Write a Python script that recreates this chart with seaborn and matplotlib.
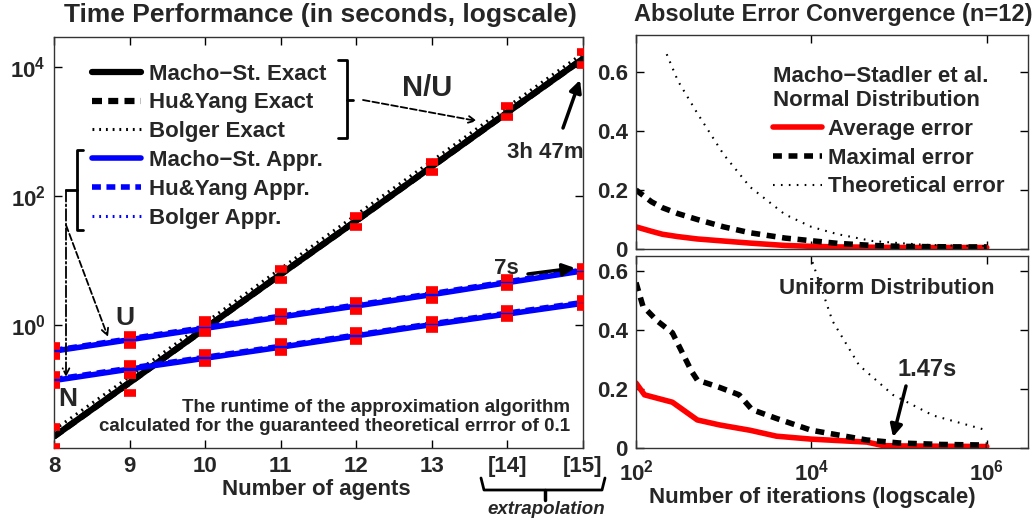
import matplotlib
matplotlib.use('Agg')
import matplotlib.pyplot as plt
import seaborn as sns
from matplotlib.lines import Line2D
from matplotlib.patches import FancyArrowPatch

# Time performance data (seconds)
agents = [8, 9, 10, 11, 12, 13, 14, 15]
agent_labels = ['8', '9', '10', '11', '12', '13', '[14]', '[15]']
macho_exact = [0.019, 0.13, 0.9, 6.2, 42, 290, 2000, 13600]
huyang_exact = [0.019, 0.13, 0.9, 6.2, 42, 290, 2000, 13600]
bolger_exact = [0.024, 0.16, 1.1, 7.6, 52, 355, 2450, 16500]
macho_appr_u = [0.40, 0.60, 0.90, 1.35, 2.0, 3.0, 4.6, 7.0]
huyang_appr_u = [0.41, 0.62, 0.93, 1.39, 2.07, 3.1, 4.75, 7.2]
bolger_appr_u = [0.41, 0.61, 0.92, 1.37, 2.04, 3.05, 4.7, 7.1]
macho_appr_n = [0.14, 0.21, 0.31, 0.46, 0.69, 1.03, 1.5, 2.2]
huyang_appr_n = [0.145, 0.217, 0.32, 0.475, 0.71, 1.06, 1.55, 2.27]
bolger_appr_n = [0.143, 0.214, 0.315, 0.47, 0.70, 1.05, 1.53, 2.25]
# measured runs (red marks)
exact_lo = [0.013, 0.09, 0.75, 5.0, 33, 240, 1700, 11000]
exact_hi = [0.027, 0.17, 1.2, 7.5, 50, 340, 2500, 17000]
u_lo = [0.33, 0.50, 0.78, 1.15, 1.7, 2.5, 3.9, 5.8]
u_hi = [0.48, 0.72, 1.10, 1.60, 2.4, 3.5, 5.4, 8.0]
n_lo = [0.12, 0.17, 0.26, 0.39, 0.58, 0.87, 1.3, 1.9]
n_hi = [0.17, 0.25, 0.37, 0.55, 0.82, 1.2, 1.8, 2.6]

# Error convergence, normal distribution
norm_iter = [100, 150, 200, 300, 500, 1000, 2000, 5000, 1e4, 2e4, 5e4, 1e5, 2e5, 5e5, 1e6]
norm_avg = [0.075, 0.06, 0.05, 0.042, 0.034, 0.027, 0.02, 0.012, 0.009, 0.007, 0.006, 0.005, 0.005, 0.005, 0.005]
norm_max = [0.2, 0.16, 0.14, 0.12, 0.1, 0.075, 0.055, 0.037, 0.028, 0.019, 0.012, 0.009, 0.008, 0.007, 0.007]
norm_theo_iter = [224, 300, 500, 1000, 2000, 5000, 1e4, 2e4, 5e4, 1e5, 2e5, 5e5, 1e6]
norm_theo = [0.66, 0.57, 0.46, 0.32, 0.21, 0.117, 0.075, 0.05, 0.027, 0.02, 0.014, 0.011, 0.01]

# Error convergence, uniform distribution
uni_max_iter = [100, 120, 175, 260, 430, 500, 900, 1500, 2100, 4000, 1e4, 4.3e4, 1e5, 3e5, 1e6]
uni_max = [0.56, 0.48, 0.43, 0.39, 0.26, 0.23, 0.205, 0.18, 0.13, 0.10, 0.06, 0.027, 0.017, 0.012, 0.01]
uni_avg_iter = [100, 125, 260, 500, 900, 2000, 4000, 1e4, 4.3e4, 6.6e4, 1e5, 1e6]
uni_avg = [0.22, 0.18, 0.155, 0.095, 0.078, 0.06, 0.04, 0.03, 0.02, 0.008, 0.007, 0.005]
uni_theo_iter = [9000, 1.74e4, 3.5e4, 8.5e4, 2.45e5, 1e6]
uni_theo = [0.68, 0.43, 0.28, 0.18, 0.11, 0.06]

sns.set_theme(style='ticks')
plt.rcParams['font.family'] = ['Liberation Sans', 'DejaVu Sans']
plt.rcParams['font.weight'] = 'bold'
plt.rcParams['mathtext.fontset'] = 'custom'
plt.rcParams['mathtext.rm'] = 'Liberation Sans:bold'
plt.rcParams['mathtext.it'] = 'Liberation Sans:bold'
plt.rcParams['mathtext.bf'] = 'Liberation Sans:bold'
plt.rcParams['mathtext.default'] = 'rm'
plt.rcParams['axes.linewidth'] = 1.0

W, H = 1034, 523


def fpx(x, y):
    # pixel (from top-left) -> figure fraction
    return (x / W, 1 - y / H)


def ax_rect(l, t, r, b):
    return [l / W, 1 - b / H, (r - l) / W, (b - t) / H]


def style_ticks(ax):
    ax.tick_params(direction='in', length=6, width=1, top=True, right=True,
                   labelsize=16, color='black', pad=6)
    ax.tick_params(which='minor', length=0)
    for s in ax.spines.values():
        s.set_color('#333333')


def bracket(pts, lw=2):
    xs = [fpx(*p)[0] for p in pts]
    ys = [fpx(*p)[1] for p in pts]
    fig.add_artist(Line2D(xs, ys, transform=fig.transFigure, color='black', lw=lw))


def arrow(p0, p1, **kw):
    fig.add_artist(FancyArrowPatch(fpx(*p0), fpx(*p1), transform=fig.transFigure,
                                   shrinkA=0, shrinkB=0, color='black', **kw))


fig = plt.figure(figsize=(W / 100, H / 100), dpi=100)

#--------------------------------------------------------------------------------------------
# Left: time performance
ax = fig.add_axes(ax_rect(54, 37, 583, 448))
ax.set_yscale('log')

dash = (0, (1.6, 1.0))
dot = (0, (0.6, 1.6))
sns.lineplot(x=agents, y=macho_exact, ax=ax, color='black', lw=4.5, label='Macho−St. Exact')
sns.lineplot(x=agents, y=huyang_exact, ax=ax, color='black', lw=4.5, ls=dash, label='Hu&Yang Exact')
sns.lineplot(x=agents, y=bolger_exact, ax=ax, color='black', lw=2.2, ls=dot, label='Bolger Exact')
sns.lineplot(x=agents, y=macho_appr_u, ax=ax, color='#0000ff', lw=4, label='Macho−St. Appr.')
sns.lineplot(x=agents, y=huyang_appr_u, ax=ax, color='#0000ff', lw=4, ls=dash, label='Hu&Yang Appr.')
sns.lineplot(x=agents, y=bolger_appr_u, ax=ax, color='#0000ff', lw=2.2, ls=dot, label='Bolger Appr.')
sns.lineplot(x=agents, y=macho_appr_n, ax=ax, color='#0000ff', lw=4)
sns.lineplot(x=agents, y=huyang_appr_n, ax=ax, color='#0000ff', lw=4, ls=dash)
sns.lineplot(x=agents, y=bolger_appr_n, ax=ax, color='#0000ff', lw=2.2, ls=dot)

for vals in [exact_lo, exact_hi, u_lo, u_hi, n_lo, n_hi]:
    ax.plot(agents, vals, ls='none', marker='_', ms=9, mew=5.5, color='#ff0000', zorder=5)

ax.set_xlim(8, 15)
ax.set_ylim(10 ** -1.9, 10 ** 4.47)
ax.set_xticks(agents)
ax.set_xticklabels(agent_labels)
ax.set_yticks([1, 1e2, 1e4])
ax.set_xlabel('')
ax.set_ylabel('')
style_ticks(ax)

ax.legend(loc='upper left', bbox_to_anchor=(0.072, 0.935), frameon=False,
          fontsize=16, handlelength=2.2, handletextpad=0.35, labelspacing=0.35,
          borderaxespad=0, borderpad=0)

fig.text(*fpx(570, 417), 'The runtime of the approximation algorithm\n'
         'calculated for the guaranteed theoretical errror of 0.1',
         ha='right', va='center', fontsize=13.5, multialignment='right', linespacing=1.2)

# brackets and arrows
bracket([(338, 60), (347, 60), (347, 138), (338, 138)])
bracket([(347, 100), (353, 100)])
bracket([(83, 150), (77, 150), (77, 230), (83, 230)])
bracket([(77, 190), (66, 190)])

arrow((363, 100), (477, 121), arrowstyle='->', lw=1.3, ls='--', mutation_scale=12)
arrow((66, 190), (66, 377), arrowstyle='->', lw=1.3, ls='-.', mutation_scale=12)
arrow((66, 225), (108, 337), arrowstyle='->', lw=1.3, ls='--', mutation_scale=12)

fig.text(*fpx(427, 88), 'N/U', fontsize=21, ha='center', va='center')
fig.text(*fpx(125, 318), 'U', fontsize=19, ha='center', va='center')
fig.text(*fpx(68, 399), 'N', fontsize=19, ha='center', va='center')

fig.text(*fpx(506, 268), '7s', fontsize=16, ha='center', va='center')
arrow((528, 274), (575, 268), arrowstyle='-|>', lw=2.5, mutation_scale=18)
fig.text(*fpx(545, 152), '3h 47m', fontsize=16, ha='center', va='center')
arrow((563, 128), (580, 80), arrowstyle='-|>', lw=2.5, mutation_scale=18)

# extrapolation brace
bracket([(481, 478), (484, 490), (602, 490), (605, 478)])
bracket([(545, 490), (545, 500)], lw=2.5)
fig.text(*fpx(546, 510), 'extrapolation', fontsize=13.5, style='italic', ha='center', va='center')

fig.text(*fpx(320, 15), 'Time Performance (in seconds, logscale)', fontsize=19, ha='center', va='center',
         family=['Liberation Sans Narrow', 'Liberation Sans'])
fig.text(*fpx(316, 490), 'Number of agents', fontsize=16, ha='center', va='center')

#--------------------------------------------------------------------------------------------
# Right: absolute error convergence
ax_t = fig.add_axes(ax_rect(636, 35, 1028, 249))
ax_b = fig.add_axes(ax_rect(636, 256, 1028, 448))

for a in (ax_t, ax_b):
    a.set_xscale('log')

sns.lineplot(x=norm_iter, y=norm_avg, ax=ax_t, color='#ff0000', lw=4, label='Average error')
sns.lineplot(x=norm_iter, y=norm_max, ax=ax_t, color='black', lw=4, ls=(0, (1.6, 1.2)), label='Maximal error')
sns.lineplot(x=norm_theo_iter, y=norm_theo, ax=ax_t, color='black', lw=1.5, ls=(0, (0.8, 3)), label='Theoretical error')

sns.lineplot(x=uni_avg_iter, y=uni_avg, ax=ax_b, color='#ff0000', lw=4)
sns.lineplot(x=uni_max_iter, y=uni_max, ax=ax_b, color='black', lw=4, ls=(0, (1.6, 1.2)))
sns.lineplot(x=uni_theo_iter, y=uni_theo, ax=ax_b, color='black', lw=1.5, ls=(0, (0.8, 3)))

for a, top in ((ax_t, 0.725), (ax_b, 0.65)):
    a.set_xlim(100, 10 ** 6.47)
    a.set_ylim(0, top)
    a.set_xticks([1e2, 1e4, 1e6])
    a.set_yticks([0, 0.2, 0.4, 0.6])
    a.set_yticklabels(['0', '0.2', '0.4', '0.6'])
    a.set_xlabel('')
    a.set_ylabel('')
    style_ticks(a)
ax_t.set_xticklabels([])
ax_b.tick_params(axis='x', pad=8)

leg = ax_t.legend(loc='upper left', bbox_to_anchor=(0.349, 0.856), frameon=False, fontsize=16,
                  title='Macho−Stadler et al.\nNormal Distribution', title_fontsize=16, alignment='left',
                  handlelength=2.2, handletextpad=0.3, labelspacing=0.35, borderaxespad=0, borderpad=0)
leg.get_title().set_linespacing(1.2)

ax_b.text(0.64, 0.83, 'Uniform Distribution', transform=ax_b.transAxes, fontsize=16,
          ha='center', va='center')
fig.text(*fpx(927, 370), '1.47s', fontsize=17, ha='center', va='center')
arrow((906, 386), (893, 437), arrowstyle='-|>', lw=2.5, mutation_scale=18)

fig.text(*fpx(833, 15), 'Absolute Error Convergence (n=12)', fontsize=17, ha='center', va='center',
         family=['Liberation Sans Narrow', 'Liberation Sans'])
fig.text(*fpx(812, 497), 'Number of iterations (logscale)', fontsize=16, ha='center', va='center')

plt.savefig('out.png', dpi=100)
